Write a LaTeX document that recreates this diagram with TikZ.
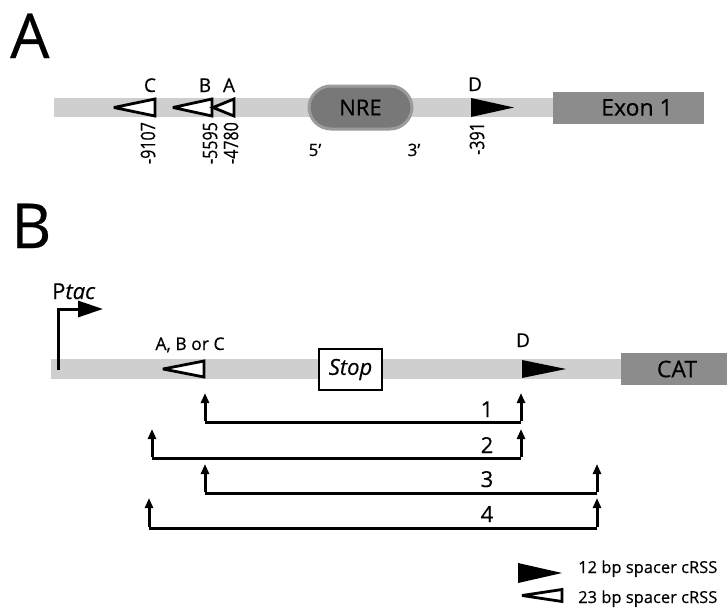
\documentclass[tikz,border=0pt]{standalone}
\usepackage{fontspec}
\setmainfont{Open Sans}[UprightFeatures={FakeBold=0.4},ItalicFeatures={FakeBold=0.4}]
\usetikzlibrary{arrows.meta}
\definecolor{barcol}{RGB}{207,207,207}
\definecolor{boxcol}{RGB}{140,140,140}
\definecolor{nrefill}{RGB}{120,120,120}
\definecolor{nreline}{RGB}{155,155,155}
\newcommand{\fs}[1]{\fontsize{#1}{#1}\selectfont}
\newcommand{\cnd}[1]{\scalebox{0.8}[1]{#1}}
\begin{document}
\begin{tikzpicture}[x=1pt,y=-1pt,
  bar/.style={fill=barcol,draw=none},
  gbox/.style={fill=boxcol,draw=none},
  opentri/.style={draw=black,fill=white,line width=2.8pt,line join=miter,miter limit=3},
  filltri/.style={fill=black,draw=none},
  lab/.style={inner sep=0pt,font=\fs{19}},
  num/.style={inner sep=0pt,font=\fs{20},rotate=90,anchor=east},
  brk/.style={line width=3pt},
  upar/.style={line width=3pt,-{Triangle[length=10pt,width=8pt]}},
  biglab/.style={inner sep=0pt,anchor=base west,font=\fs{62}}]
\useasboundingbox (0,0) rectangle (727,610);
\fill[white] (0,0) rectangle (727,610);

% ---------- Panel A ----------
\node[biglab] (LA) at (10,58) {A};
\fill[bar] (54,98) rectangle (555,117);
\node[gbox,minimum width=151pt,minimum height=32pt,anchor=north west] (exon) at (553,92) {};
\node[font=\fs{23},inner sep=0pt] (exont) at (637,107.5) {Exon 1};
\node[rounded corners=22pt,fill=nrefill,draw=nreline,line width=3pt,minimum width=103pt,minimum height=43pt,inner sep=0pt] (nre) at (360.5,107.5) {\fs{22}NRE};
% triangles
\draw[opentri] (114,107.5) -- (155,99) -- (155,116) -- cycle;
\draw[opentri] (173,107.5) -- (212,99) -- (212,116) -- cycle;
\draw[opentri] (213,107.5) -- (234,99) -- (234,116) -- cycle;
\fill[filltri] (471,98) -- (514,107.5) -- (471,117) -- cycle;
% labels
\node[lab,anchor=base] (lC) at (150,92) {C};
\node[lab,anchor=base] (lB) at (205,92) {B};
\node[lab,anchor=base] (lAa) at (229,92) {A};
\node[lab,anchor=base] (lD) at (475,91) {D};
\node[num] (n1) at (148,122) {\cnd{-9107}};
\node[num] (n2) at (210,122) {\cnd{-5595}};
\node[num] (n3) at (231,122) {\cnd{-4780}};
\node[num] (n4) at (477,122) {\cnd{-391}};
\node[lab,anchor=base,font=\fs{17}] (p5) at (315,156) {5’};
\node[lab,anchor=base,font=\fs{17}] (p3) at (414,156) {3’};

% ---------- Panel B ----------
\node[biglab] (LB) at (11,248) {B};
\fill[bar] (51,359) rectangle (625,379);
\node[gbox,minimum width=106pt,minimum height=32pt,anchor=north west] (cat) at (621,353) {};
\node[font=\fs{23},inner sep=0pt] (catt) at (677,369) {CAT};
\node[draw=black,fill=white,line width=2.6pt,minimum width=63pt,minimum height=41pt,inner sep=0pt] (stop) at (350.5,369.5) {\fs{22}\itshape Stop};
% Ptac promoter
\node[lab,anchor=base west,font=\fs{22}] (ptac) at (52,299) {P\textit{tac}};
\coordinate (pbot) at (58,370);
\coordinate (ptop) at (58,309);
\coordinate (ptip) at (103,309);
\draw[line width=3pt,-{Triangle[length=25pt,width=16pt]}] (pbot) -- (ptop) -- (ptip);
% triangles
\draw[opentri] (163,369) -- (204,361) -- (204,377) -- cycle;
\fill[filltri] (522,360) -- (566,369) -- (522,378) -- cycle;
\node[lab,anchor=base,font=\fs{17.5}] (abc) at (190,350) {A, B or C};
\node[lab,anchor=base] (lD2) at (523,347) {D};

% brackets
\coordinate (b1l) at (205,422); \coordinate (b1r) at (521,422);
\coordinate (b1lt) at (205,393); \coordinate (b1rt) at (521,393);
\coordinate (b2l) at (152,458); \coordinate (b2r) at (521,458);
\coordinate (b2lt) at (152,429); \coordinate (b2rt) at (521,429);
\coordinate (b3l) at (205,493); \coordinate (b3r) at (597,493);
\coordinate (b3lt) at (205,464); \coordinate (b3rt) at (597,464);
\coordinate (b4l) at (149,528); \coordinate (b4r) at (597,528);
\coordinate (b4lt) at (149,498); \coordinate (b4rt) at (597,498);
\foreach \i in {1,2,3,4}{
  \draw[brk] (b\i l) -- (b\i r);
  \draw[upar] ([yshift=1.5pt]b\i l) -- (b\i lt);
  \draw[upar] ([yshift=1.5pt]b\i r) -- (b\i rt);
}
\node[lab,anchor=base,font=\fs{22}] (k1) at (487,417) {1};
\node[lab,anchor=base,font=\fs{22}] (k2) at (487,453) {2};
\node[lab,anchor=base,font=\fs{22}] (k3) at (487,487) {3};
\node[lab,anchor=base,font=\fs{22}] (k4) at (487,522) {4};

% legend
\fill[filltri] (518,563) -- (562,573) -- (518,583) -- cycle;
\draw[opentri] (522,595.5) -- (562,589.5) -- (562,601.5) -- cycle;
\node[lab,anchor=base west,font=\fs{16.5}] (leg1) at (578,573) {12 bp spacer cRSS};
\node[lab,anchor=base west,font=\fs{16.5}] (leg2) at (578,603) {23 bp spacer cRSS};
\end{tikzpicture}
\end{document}
